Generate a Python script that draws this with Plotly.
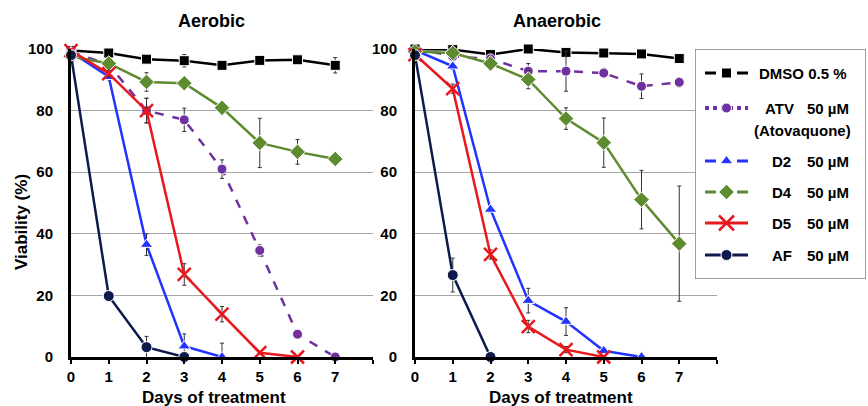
import plotly.graph_objects as go

days = [0, 1, 2, 3, 4, 5, 6, 7]

# Aerobic
aer_dmso = [99.5, 98.7, 96.7, 96.2, 94.7, 96.3, 96.5, 94.7]
aer_dmso_err = [0, 0.8, 1, 2, 0.8, 1.5, 1, 2.5]
aer_atv = [99, 95, 80, 77, 61, 34.6, 7.4, 0]
aer_atv_err = [0, 1, 4, 3.8, 3, 1.8, 1, 0]
aer_d2 = [99, 91, 36.5, 3.5, 0]
aer_d2_err = [0, 1, 3.5, 4, 4.5]
aer_d4 = [97.6, 95.3, 89.3, 88.9, 80.9, 69.5, 66.6, 64.3]
aer_d4_err = [0, 1, 3, 1, 1, 8, 4, 0.5]
aer_d5 = [99.5, 92, 80, 26.8, 13.9, 1.4, 0]
aer_d5_err = [0, 1, 4, 3.5, 2.5, 0.5, 0]
aer_af = [98, 19.8, 3.2, 0]
aer_af_err = [0, 0.5, 3.5, 0]

# Anaerobic
ana_dmso = [100, 99.8, 98.2, 100, 98.9, 98.7, 98.4, 96.9]
ana_dmso_err = [0, 0.5, 1, 0.5, 1, 0.5, 0.5, 0.5]
ana_atv = [100.3, 97.6, 96.8, 92.8, 92.8, 92.2, 87.9, 89.2]
ana_atv_err = [0, 1, 1.5, 2.5, 6.5, 1.5, 4, 1.5]
ana_d2 = [99.6, 94.4, 47.9, 18.3, 11.5, 2, 0]
ana_d2_err = [0, 1, 1, 4, 4.5, 0.5, 0]
ana_d4 = [99.2, 98.7, 95.3, 90.1, 77.4, 69.6, 51.1, 36.8]
ana_d4_err = [0, 1, 2, 3, 3.5, 8, 9.5, 18.7]
ana_d5 = [98.2, 87.1, 33.3, 9.9, 2.4, 0]
ana_d5_err = [0, 1.5, 1.5, 2, 1, 0]
ana_af = [98, 26.6, 0]
ana_af_err = [0, 5.5, 0]

series_names = ["DMSO", "ATV", "D2", "D4", "D5", "AF"]
legend_labels = ["DMSO 0.5 %", "ATV", "D2", "D4", "D5", "AF"]
legend_conc = ["", "50 µM", "50 µM", "50 µM", "50 µM", "50 µM"]
legend_sub = ["", "(Atovaquone)", "", "", "", ""]

colors = ["#000000", "#7030A0", "#2233FF", "#5E8B2F", "#E8191E", "#0E1A4C"]
symbols = ["square", "circle", "triangle-up", "diamond", "x-thin", "circle"]
sizes = [10, 10, 11, 12, 13, 11]
dashes = ["solid", "dash", "solid", "solid", "solid", "solid"]
legend_dash = ["11px,21px", "4px,4px", "11px,21px", "11px,21px", "solid", "solid"]

aer = [(aer_dmso, aer_dmso_err), (aer_atv, aer_atv_err), (aer_d2, aer_d2_err),
       (aer_d4, aer_d4_err), (aer_d5, aer_d5_err), (aer_af, aer_af_err)]
ana = [(ana_dmso, ana_dmso_err), (ana_atv, ana_atv_err), (ana_d2, ana_d2_err),
       (ana_d4, ana_d4_err), (ana_d5, ana_d5_err), (ana_af, ana_af_err)]

FONT = "Liberation Sans, Arial, sans-serif"
BOLD = dict(family=FONT, color="black", weight="bold")

W, H = 868, 406
L, R, T, B = 71, 0, 49, 49
PW, PH = W - L - R, H - T - B


def px(x):
    return (x - L) / PW


def py(y):
    return (H - B - y) / PH


def marker_line(i):
    if symbols[i] == "x-thin":
        return dict(color=colors[i], width=2.5)
    return dict(color="white", width=1)


fig = go.Figure()

for panel, (data, xa, ya) in enumerate([(aer, "x", "y"), (ana, "x2", "y2")]):
    for i in range(6):
        vals, err = data[i]
        fig.add_trace(go.Scatter(
            x=days[:len(vals)], y=vals, xaxis=xa, yaxis=ya,
            mode="lines+markers", name=series_names[i], showlegend=False,
            line=dict(color=colors[i], width=2.5, dash=dashes[i]),
            marker=dict(symbol=symbols[i], size=sizes[i], color=colors[i],
                        line=marker_line(i)),
            error_y=dict(type="data", array=err, visible=True, color="#333333",
                         thickness=1, width=2),
            cliponaxis=False,
        ))

# ---- manual legend (in a pixel-unit helper axis) ----
BOX = (695, 866, 49, 279)  # left, right, top, bottom (px)
leg_rows = [73, 108, 161, 192, 223, 255]
sym_l, sym_r = 705, 748
sym_c = (sym_l + sym_r) / 2
annotations = []
for i in range(6):
    yv = leg_rows[i]
    fig.add_trace(go.Scatter(
        x=[sym_l, sym_r], y=[yv, yv], xaxis="x3", yaxis="y3", mode="lines",
        line=dict(color=colors[i], width=3 if i != 1 else 4, dash=legend_dash[i]),
        showlegend=False, hoverinfo="skip"))
    fig.add_trace(go.Scatter(
        x=[sym_c], y=[yv], xaxis="x3", yaxis="y3", mode="markers",
        marker=dict(symbol=symbols[i], size=sizes[i] + (2 if i == 4 else 0),
                    color=colors[i], line=marker_line(i)),
        showlegend=False, hoverinfo="skip"))
    name_x = 757 if i == 0 else (763 if i == 1 else 770)
    annotations.append(dict(text=legend_labels[i], x=name_x, y=yv, xref="x3", yref="y3",
                            xanchor="left", yanchor="middle", showarrow=False,
                            font=dict(size=15, **BOLD)))
    if legend_conc[i]:
        annotations.append(dict(text=legend_conc[i], x=805, y=yv, xref="x3", yref="y3",
                                xanchor="left", yanchor="middle", showarrow=False,
                                font=dict(size=15, **BOLD)))
    if legend_sub[i]:
        annotations.append(dict(text=legend_sub[i], x=752, y=yv + 22, xref="x3", yref="y3",
                                xanchor="left", yanchor="middle", showarrow=False,
                                font=dict(size=15, **BOLD)))

xcommon = dict(range=[0, 8], tickvals=list(range(9)),
               ticktext=[str(d) for d in days] + [""],
               showline=True, linewidth=3, linecolor="black", showgrid=False,
               ticks="outside", ticklen=4, tickwidth=2, tickcolor="black",
               zeroline=False, ticklabelstandoff=0,
               tickfont=dict(size=15, **BOLD))
ycommon = dict(range=[0, 100], tickvals=[0, 20, 40, 60, 80, 100],
               showline=True, linewidth=3, linecolor="black",
               showgrid=True, gridcolor="#A6A6A6", gridwidth=1, zeroline=False,
               ticks="", ticklabelstandoff=12,
               tickfont=dict(size=15, **BOLD))

CENTER = dict(xanchor="center", yanchor="middle", showarrow=False,
              xref="paper", yref="paper")
annotations += [
    dict(text="Aerobic", x=px(211), y=py(21), font=dict(size=18, **BOLD), **CENTER),
    dict(text="Anaerobic", x=px(557), y=py(21), font=dict(size=18, **BOLD), **CENTER),
    dict(text="Days of treatment", x=px(214), y=py(397), font=dict(size=17, **BOLD), **CENTER),
    dict(text="Days of treatment", x=px(561), y=py(397), font=dict(size=17, **BOLD), **CENTER),
    dict(text="Viability (%)", x=px(21), y=py(222), textangle=-90,
         font=dict(size=17, **BOLD), **CENTER),
]

fig.update_layout(
    width=W, height=H,
    margin=dict(l=L, r=R, t=T, b=B),
    paper_bgcolor="white", plot_bgcolor="white",
    showlegend=False,
    xaxis=dict(domain=[0, px(373)], anchor="y", **xcommon),
    yaxis=dict(domain=[0, 1], anchor="x", **ycommon),
    xaxis2=dict(domain=[px(415), px(717)], anchor="y2", **xcommon),
    yaxis2=dict(domain=[0, 1], anchor="x2", **ycommon),
    xaxis3=dict(domain=[px(BOX[0]), px(BOX[1])], range=[BOX[0], BOX[1]], anchor="y3",
                visible=False, fixedrange=True),
    yaxis3=dict(domain=[py(BOX[3]), py(BOX[2])], range=[BOX[3], BOX[2]], anchor="x3",
                visible=False, fixedrange=True),
    shapes=[dict(type="rect", xref="x3", yref="y3",
                 x0=BOX[0], x1=BOX[1], y0=BOX[3], y1=BOX[2],
                 fillcolor="white", line=dict(color="#808080", width=1.5),
                 layer="between")],
    annotations=annotations,
)

fig.write_html("out.html", config={"displayModeBar": False},
               post_script="document.body.style.margin='0';document.body.style.overflow='hidden';")
